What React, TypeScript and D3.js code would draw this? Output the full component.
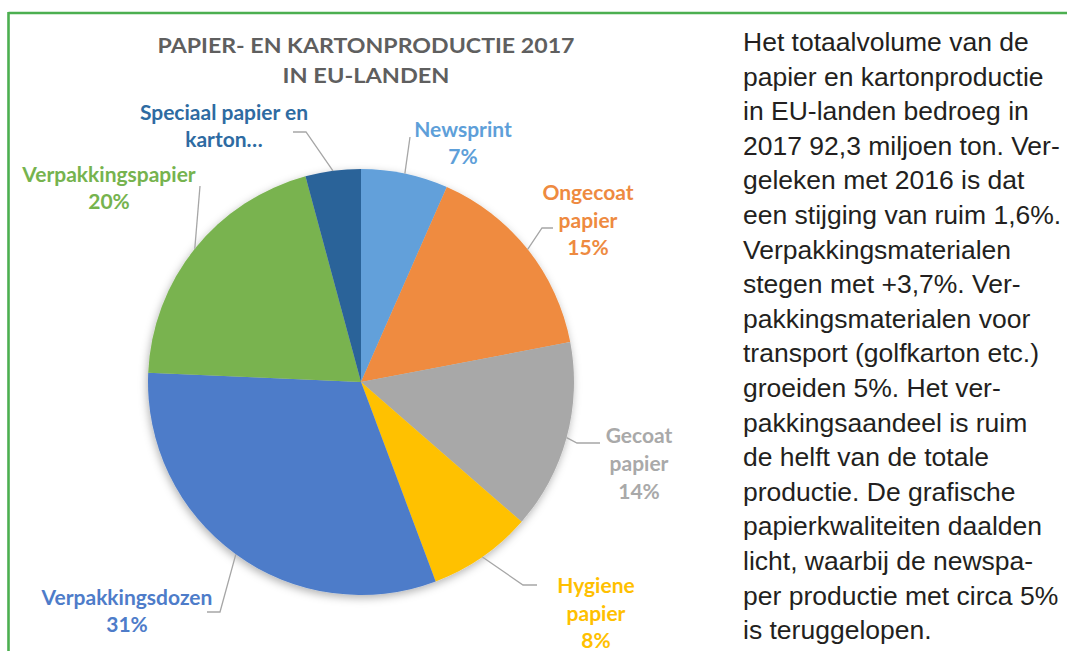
import React from "react";
import * as d3 from "d3";

const categories = [
  "Newsprint",
  "Ongecoat papier",
  "Gecoat papier",
  "Hygiene papier",
  "Verpakkingsdozen",
  "Verpakkingspapier",
  "Speciaal papier en karton",
];
const shares = [6.6, 15.4, 14.4, 7.9, 31.4, 20.1, 4.2];
const sliceColors = ["#62A0DA", "#EF8B3F", "#A8A8A8", "#FFC103", "#4D7CC9", "#79B34F", "#2C6399"];
const labelColors = ["#5E9FD9", "#EE8A40", "#A9A9A9", "#FFC000", "#4E7CC9", "#76B34E", "#2E6BA2"];

const titleLines = ["PAPIER- EN KARTONPRODUCTIE 2017", "IN EU-LANDEN"];

const bodyLines = [
  "Het totaalvolume van de",
  "papier en kartonproductie",
  "in EU-landen bedroeg in",
  "2017 92,3 miljoen ton. Ver-",
  "geleken met 2016 is dat",
  "een stijging van ruim 1,6%.",
  "Verpakkingsmaterialen",
  "stegen met +3,7%. Ver-",
  "pakkingsmaterialen voor",
  "transport (golfkarton etc.)",
  "groeiden 5%. Het ver-",
  "pakkingsaandeel is ruim",
  "de helft van de totale",
  "productie. De grafische",
  "papierkwaliteiten daalden",
  "licht, waarbij de newspa-",
  "per productie met circa 5%",
  "is teruggelopen.",
];

// layout of data labels (wrapping, position, leader points)
type LabelLayout = {
  lines: string[];
  showPct: boolean;
  cx: number;
  y0: number;
  dy: number;
  leader: [number, number][];
};
const labelLayout: LabelLayout[] = [
  { lines: ["Newsprint"], showPct: true, cx: 463, y0: 137, dy: 27, leader: [[410, 137]] },
  { lines: ["Ongecoat", "papier"], showPct: true, cx: 588, y0: 200, dy: 27.5, leader: [[542, 228], [553, 228]] },
  { lines: ["Gecoat", "papier"], showPct: true, cx: 639, y0: 443, dy: 28, leader: [[577, 443], [600, 443]] },
  { lines: ["Hygiene", "papier"], showPct: true, cx: 596, y0: 593, dy: 27.5, leader: [[523, 585], [537, 585]] },
  { lines: ["Verpakkingsdozen"], showPct: true, cx: 127, y0: 605, dy: 27, leader: [[220, 612], [207, 612]] },
  { lines: ["Verpakkingspapier"], showPct: true, cx: 109, y0: 182, dy: 27, leader: [[200, 186]] },
  { lines: ["Speciaal papier en", "karton…"], showPct: false, cx: 224, y0: 120, dy: 27, leader: [[306, 132], [293, 132]] },
];

const W = 1067;
const H = 651;
const CX = 361;
const CY = 382;
const R = 213;

export default function App() {
  const pie = d3.pie<number>().sort(null).value((d) => d);
  const arcs = pie(shares);
  const arc = d3.arc<d3.PieArcDatum<number>>().innerRadius(0).outerRadius(R);
  const total = d3.sum(shares);
  const labelFont = "Lato, 'Open Sans', sans-serif";

  return (
    <svg
      width={W}
      height={H}
      viewBox={`0 0 ${W} ${H}`}
      style={{ position: "fixed", left: 0, top: 0, background: "#fff" }}
    >
      <defs>
        <filter id="pieShadow" x="-20%" y="-20%" width="140%" height="140%">
          <feDropShadow dx="-1" dy="3" stdDeviation="4" floodColor="#000" floodOpacity="0.3" />
        </filter>
      </defs>
      <rect x={0} y={0} width={W} height={H} fill="#fff" />
      {/* green frame */}
      <line x1={8.5} y1={13} x2={W} y2={13} stroke="#4CAF50" strokeWidth={2.6} />
      <line x1={8.5} y1={12} x2={8.5} y2={H} stroke="#4CAF50" strokeWidth={2.6} />

      {/* title */}
      {titleLines.map((t, i) => (
        <text
          key={t}
          x={366}
          y={53 + i * 30}
          textAnchor="middle"
          fontFamily={labelFont}
          fontWeight={700}
          fontSize={21}
          fill="#5F5F5F"
          textLength={i === 0 ? 417 : 167}
          lengthAdjust="spacingAndGlyphs"
        >
          {t}
        </text>
      ))}

      {/* pie */}
      <g transform={`translate(${CX},${CY})`} filter="url(#pieShadow)">
        {arcs.map((a, i) => (
          <path key={categories[i]} d={arc(a) || ""} fill={sliceColors[i]} />
        ))}
      </g>

      {/* leader lines */}
      {arcs.map((a, i) => {
        const mid = (a.startAngle + a.endAngle) / 2;
        const sx = CX + R * Math.sin(mid);
        const sy = CY - R * Math.cos(mid);
        const pts: [number, number][] = [[sx, sy], ...labelLayout[i].leader];
        return (
          <path
            key={"l" + i}
            d={d3.line()(pts) || ""}
            fill="none"
            stroke="#A6A6A6"
            strokeWidth={1.3}
          />
        );
      })}

      {/* data labels */}
      {arcs.map((a, i) => {
        const L = labelLayout[i];
        const pct = Math.round((shares[i] / total) * 100) + "%";
        const lines = L.showPct ? [...L.lines, pct] : L.lines;
        return (
          <g key={"t" + i}>
            {lines.map((ln, j) => (
              <text
                key={j}
                x={L.cx}
                y={L.y0 + j * L.dy}
                textAnchor="middle"
                fontFamily={labelFont}
                fontWeight={700}
                fontSize={21}
                fill={labelColors[i]}
              >
                {ln}
              </text>
            ))}
          </g>
        );
      })}

      {/* body text */}
      {bodyLines.map((t, i) => (
        <text
          key={i}
          x={743}
          y={51 + i * 34.6}
          fontFamily="'Liberation Sans', Arial, sans-serif"
          fontSize={26.5}
          fill="#231F20"
        >
          {t}
        </text>
      ))}
    </svg>
  );
}
